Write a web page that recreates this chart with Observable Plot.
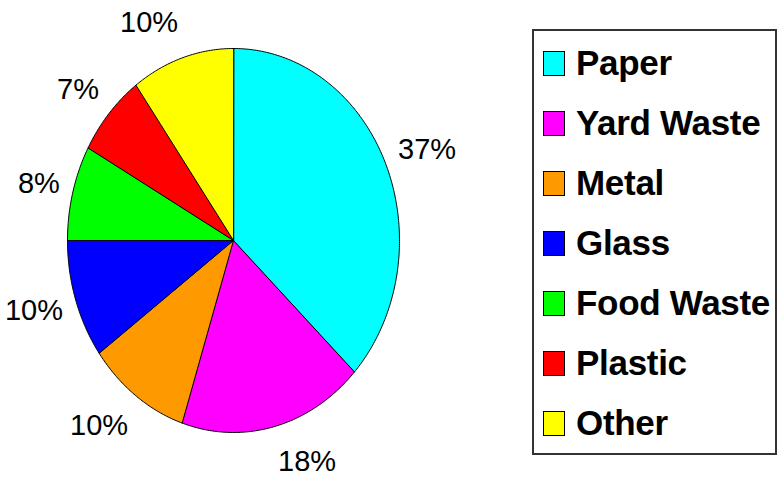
<!DOCTYPE html>
<html>
<head>
<meta charset="utf-8">
<script src="https://cdn.jsdelivr.net/npm/d3@7"></script>
<script src="https://cdn.jsdelivr.net/npm/@observablehq/plot@0.6"></script>
<style>
  html, body { margin: 0; padding: 0; background: #fff; }
  #wrap { position: relative; width: 780px; height: 478px; overflow: hidden; font-family: "Liberation Sans", Arial, sans-serif; }
  #legend { position: absolute; left: 532px; top: 29px; width: 241px; height: 420px; border: 2px solid #333; box-sizing: content-box; padding-top: 2px; }
  .row { height: 60px; display: flex; align-items: center; }
  .sw { width: 20px; height: 23px; border: 1px solid #000; margin-left: 9px; margin-right: 11px; }
  .lab { font-weight: bold; font-size: 35px; color: #000; white-space: nowrap; letter-spacing: -0.3px; }
</style>
</head>
<body>
<div id="wrap"><div id="chart"></div><div id="legend"></div></div>
<script>
const categories = ["Paper", "Yard Waste", "Metal", "Glass", "Food Waste", "Plastic", "Other"];
const values = [37, 18, 10, 10, 8, 7, 10];
const labels = ["37%", "18%", "10%", "10%", "8%", "7%", "10%"];
const colors = ["#00FFFF", "#FF00FF", "#FF9900", "#0000FF", "#00FF00", "#FF0000", "#FFFF00"];

const pie = d3.pie().sort(null).value(d => d.value)(categories.map((name, i) => ({name, value: values[i], label: labels[i]})));

// polygon points for each slice (angles clockwise from 12 o'clock)
const pts = [];
for (const s of pie) {
  pts.push({name: s.data.name, x: 0, y: 0});
  const n = Math.max(2, Math.ceil((s.endAngle - s.startAngle) / 0.01));
  for (let j = 0; j <= n; j++) {
    const a = s.startAngle + (s.endAngle - s.startAngle) * j / n;
    pts.push({name: s.data.name, x: Math.sin(a), y: Math.cos(a)});
  }
}
const lab = pie.map(s => {
  const m = (s.startAngle + s.endAngle) / 2;
  return {label: s.data.label, x: 1.08 * Math.sin(m), y: 1.19 * Math.cos(m), right: Math.sin(m) >= 0};
});

const plot = Plot.plot({
  width: 780, height: 478,
  margin: 0,
  x: {domain: [-1, 1], range: [67, 399], axis: null},
  y: {domain: [-1, 1], range: [432, 48], axis: null},
  color: {domain: categories, range: colors},
  style: {fontFamily: "'Liberation Sans', Arial, sans-serif", background: "transparent"},
  marks: [
    Plot.line(pts, {x: "x", y: "y", z: "name", fill: "name", stroke: "#000", strokeWidth: 1, curve: "linear-closed"}),
    Plot.text(lab.filter(d => d.right), {x: "x", y: "y", text: "label", textAnchor: "start", fontSize: 29, fill: "#000"}),
    Plot.text(lab.filter(d => !d.right), {x: "x", y: "y", text: "label", textAnchor: "end", fontSize: 29, fill: "#000"})
  ]
});
document.getElementById("chart").appendChild(plot);

const leg = document.getElementById("legend");
categories.forEach((c, i) => {
  const r = document.createElement("div");
  r.className = "row";
  r.innerHTML = `<div class="sw" style="background:${colors[i]}"></div><div class="lab">${c}</div>`;
  leg.appendChild(r);
});
</script>
</body>
</html>
